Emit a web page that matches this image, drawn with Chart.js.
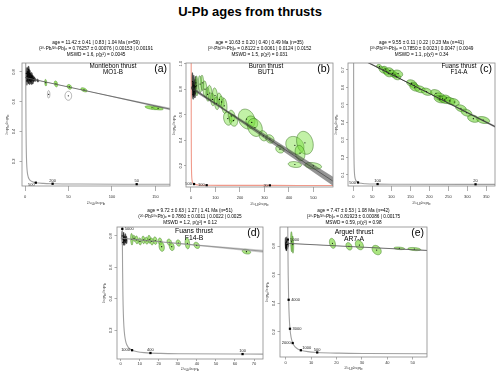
<!DOCTYPE html>
<html><head><meta charset="utf-8">
<script src="https://cdn.jsdelivr.net/npm/chart.js@4"></script>
<style>
html,body{margin:0;padding:0;background:#fff;width:500px;height:377px;overflow:hidden;position:relative}
#title{position:absolute;left:0;top:4px;width:500px;text-align:center;font:bold 13px "Liberation Sans",Arial,sans-serif;line-height:16px;color:#000}
canvas{position:absolute}
</style></head><body>
<div id="title">U-Pb ages from thrusts</div>
<script>
// ---------------- DATA ----------------
// concordia reference curve (x = 238U/206Pb, y = 207Pb/206Pb)
const concordiaX = [0.651,0.742,0.806,0.853,0.918,0.990,1.163,1.387,1.687,2.111,2.749,3.817,4.888,5.959,8.718,12.40,20.99,31.73,63.97,128.4,321.8,644,1000];
const concordiaY = [1.734,1.207,0.9735,0.845,0.7094,0.5967,0.425,0.3059,0.2226,0.1643,0.123,0.0936,0.0801,0.0725,0.0628,0.0572,0.0523,0.0501,0.0480,0.0470,0.0464,0.0462,0.0461];
// concordia age ticks (Ma)
const concordiaAgeLabels = ['5000','4000','3000','2000','1000','500','400','200','100','50','20'];
const concordiaAgeX = [0.853,1.163,1.687,2.749,5.959,12.40,15.62,31.73,63.97,128.4,321.8];
const concordiaAgeY = [0.845,0.425,0.2226,0.123,0.0725,0.0572,0.0547,0.0501,0.0480,0.0470,0.0464];

// ellipses: [238U/206Pb, 207Pb/206Pb, sx, sy, rho]
// (a) Montlebon thrust MO1-B
const panelA_black = [[1.5,0.790,0.8,0.040,-0.2],[2.5,0.770,1.0,0.035,-0.2],[3.0,0.800,0.9,0.030,-0.2],[3.8,0.760,1.1,0.040,-0.2],[4.5,0.780,1.0,0.030,-0.2],[5.0,0.745,1.2,0.030,-0.2],[5.5,0.790,1.0,0.025,-0.2],[6.2,0.762,1.2,0.030,-0.2],[7.0,0.750,1.3,0.035,-0.2],[7.8,0.772,1.0,0.025,-0.2],[8.5,0.748,1.4,0.030,-0.2],[2.0,0.740,0.8,0.030,-0.2],[4.2,0.815,0.8,0.025,-0.2],[9.6,0.755,1.2,0.020,-0.2],[11.2,0.750,1.4,0.014,-0.3],[14.6,0.742,1.2,0.010,-0.3]];
const panelA_green = [[23.8,0.728,1.2,0.022,-0.2],[35.6,0.720,2.0,0.020,-0.3],[51.0,0.700,2.6,0.016,-0.3],[67.8,0.680,3.6,0.014,-0.5],[146.0,0.560,8.0,0.013,-0.5],[153.0,0.556,6.0,0.011,-0.4]];
const panelA_omitted = [[27.2,0.650,1.4,0.025,0.0],[49.8,0.640,3.8,0.030,0.0]];
const panelA_discordia = [[0,0.7626],[564,0.0463]];
const panelA_bandUpper = [[0,0.7646],[60,0.6880],[170,0.5560]];
const panelA_bandLower = [[0,0.7606],[60,0.6850],[170,0.5380]];
const panelA_ages = ['500','200','50'];
const panelA_xTicks = ['0','50','100','150'];
const panelA_yTicks = ['0.2','0.4','0.6','0.8'];

// (b) Buron thrust BUT1
const panelB_black = [[6,0.86,3,0.07,-0.2],[9,0.80,3.5,0.06,-0.2],[12,0.83,3,0.08,-0.2],[15,0.78,4,0.05,-0.2],[18,0.82,3.5,0.06,-0.2],[8,0.76,3,0.04,-0.2],[20,0.85,3,0.05,-0.2]];
const panelB_green = [[23,0.826,6,0.078,-0.2],[37,0.840,7,0.065,-0.2],[46,0.850,6,0.060,-0.2],[57,0.800,8,0.065,-0.2],[68,0.760,7,0.055,-0.2],[77,0.770,9,0.060,-0.2],[88,0.720,8,0.050,-0.2],[98,0.750,10,0.060,-0.2],[105,0.690,9,0.050,-0.2],[116,0.720,10,0.050,-0.2],[125,0.700,10,0.045,-0.2],[136,0.670,11,0.060,-0.2],[150,0.570,17,0.052,-0.2],[166,0.590,14,0.045,-0.2],[173,0.555,17,0.045,-0.2],[227,0.566,34,0.078,-0.2],[248,0.540,24,0.050,-0.2],[261,0.500,30,0.070,-0.2],[295,0.435,17,0.040,-0.2],[322,0.410,17,0.033,-0.2],[363,0.330,17,0.030,-0.2],[424,0.360,37,0.070,-0.2],[465,0.380,34,0.090,-0.2],[445,0.300,20,0.060,-0.2],[424,0.210,27,0.023,-0.2],[499,0.200,34,0.026,-0.3]];
const panelB_omitted = [];
const panelB_discordia = [[0,0.8122],[606,0.0462]];
const panelB_bandUpper = [[0,0.8242],[150,0.6316],[580,0.1141]];
const panelB_bandLower = [[0,0.8002],[150,0.6136],[580,0.0441]];
const panelB_ages = ['500','100','20'];
const panelB_xTicks = ['0','100','200','300','400','500'];
const panelB_yTicks = ['0.2','0.4','0.6','0.8','1.0'];

// (c) Fuans thrust F14-A
const panelC_black = [];
const panelC_green = [[68.7,0.719,7,0.013,-0.3],[79,0.700,11,0.019,-0.3],[84,0.705,8,0.016,-0.3],[88,0.690,10,0.018,-0.3],[92,0.680,11,0.019,-0.3],[96.6,0.696,10,0.017,-0.3],[103.6,0.680,11,0.020,-0.3],[110,0.672,9,0.016,-0.3],[114,0.662,11,0.018,-0.3],[118,0.680,12,0.020,-0.3],[153.6,0.624,13,0.020,-0.3],[160,0.612,11,0.018,-0.3],[162,0.600,13,0.021,-0.3],[175.5,0.590,14,0.020,-0.3],[193,0.576,14,0.021,-0.3],[217.6,0.567,14,0.021,-0.3],[228,0.547,15,0.022,-0.3],[228,0.533,15,0.021,-0.3],[235,0.535,13,0.018,-0.3],[241,0.529,14,0.021,-0.3],[245,0.540,11,0.017,-0.3],[254.5,0.523,14,0.021,-0.3],[266,0.517,13,0.020,-0.3],[283.4,0.481,14,0.020,-0.3],[298,0.456,14,0.020,-0.3],[316,0.422,15,0.021,-0.3],[342,0.414,17,0.020,-0.3]];
const panelC_omitted = [];
const panelC_discordia = [[0,0.7850],[674.5,0.0462]];
const panelC_bandUpper = [[0,0.7895],[200,0.5679],[380,0.3748]];
const panelC_bandLower = [[0,0.7805],[200,0.5639],[380,0.3628]];
const panelC_ages = ['500','100','20'];
const panelC_xTicks = ['0','50','100','150','200','250','300','350'];
const panelC_yTicks = ['0.1','0.2','0.3','0.4','0.5','0.6','0.7'];

// (d) Fuans thrust F14-B
const panelD_black = [[0.8,0.80,0.3,0.030,-0.2],[1.2,0.78,0.35,0.040,-0.2],[1.6,0.79,0.3,0.035,-0.2],[2.0,0.77,0.4,0.030,-0.2],[2.5,0.785,0.35,0.030,-0.2],[3.0,0.775,0.4,0.025,-0.2],[1.0,0.76,0.3,0.020,-0.2]];
const panelD_green = [[5.8,0.779,0.6,0.037,-0.2],[7.0,0.785,0.6,0.020,-0.2],[8.4,0.775,0.8,0.025,-0.2],[10.1,0.765,0.8,0.022,-0.2],[11.9,0.775,0.8,0.024,-0.2],[13.6,0.770,0.9,0.022,-0.2],[15.0,0.779,0.8,0.025,-0.2],[16.3,0.765,0.9,0.022,-0.2],[18.1,0.770,1.0,0.024,-0.2],[20.7,0.765,1.0,0.022,-0.2],[21.5,0.732,1.4,0.030,-0.2],[25.5,0.760,1.2,0.020,-0.2],[26.8,0.732,1.3,0.025,-0.2],[30.3,0.755,1.2,0.020,-0.2],[35.0,0.753,1.2,0.035,-0.2],[39.9,0.740,1.5,0.020,-0.3],[66.0,0.700,2.2,0.015,-0.3]];
const panelD_omitted = [];
const panelD_discordia = [[0,0.7860],[662.7,0.0462]];
const panelD_bandUpper = [[0,0.7885],[20,0.7652],[76,0.7112]];
const panelD_bandLower = [[0,0.7835],[20,0.7622],[76,0.6912]];
const panelD_ages = ['5000','1000','400','100'];
const panelD_xTicks = ['0','10','20','30','40','50','60','70'];
const panelD_yTicks = ['0.2','0.4','0.6','0.8'];

// (e) Arguel thrust AR7-A
const panelE_black = [[0.0,0.82,0.25,0.040,-0.2],[0.3,0.80,0.3,0.030,-0.2],[0.5,0.83,0.25,0.035,-0.2],[0.7,0.81,0.3,0.030,-0.2],[0.2,0.79,0.25,0.025,-0.2],[0.9,0.815,0.3,0.020,-0.2]];
const panelE_green = [[2.3,0.830,0.35,0.070,-0.2],[2.8,0.810,0.35,0.060,-0.2],[18.4,0.819,1.2,0.035,-0.3],[24.9,0.798,1.2,0.026,-0.3],[29.0,0.807,1.6,0.033,-0.3],[35.8,0.772,1.8,0.033,-0.3],[44.7,0.784,2.1,0.009,-0.3],[50.6,0.779,2.5,0.011,-0.3]];
const panelE_omitted = [];
const panelE_discordia = [[0,0.81923],[862.5,0.0462]];
const panelE_bandUpper = [[0,0.8212],[30,0.7938],[56,0.7725]];
const panelE_bandLower = [[0,0.8172],[30,0.7908],[56,0.7655]];
const panelE_ages = ['5000','4000','3000','2000','1000','500'];
const panelE_xTicks = ['0','10','20','30','40','50'];
const panelE_yTicks = ['0.2','0.4','0.6','0.8'];

// header texts
const headers = {
  a:['age = 11.42 ± 0.41 | 0.83 | 1.04 Ma (n=59)','(²⁰⁷Pb/²⁰⁶Pb)ₒ = 0.76257 ± 0.00076 | 0.00153 | 0.00191','MSWD = 1.6, p(χ²) = 0.0045'],
  b:['age = 10.63 ± 0.20 | 0.40 | 0.49 Ma (n=35)','(²⁰⁷Pb/²⁰⁶Pb)ₒ = 0.8122 ± 0.0061 | 0.0124 | 0.0152','MSWD = 1.5, p(χ²) = 0.031'],
  c:['age = 9.55 ± 0.11 | 0.22 | 0.23 Ma (n=41)','(²⁰⁷Pb/²⁰⁶Pb)ₒ = 0.7850 ± 0.0023 | 0.0047 | 0.0049','MSWD = 1.1, p(χ²) = 0.34'],
  d:['age = 9.72 ± 0.63 | 1.27 | 1.41 Ma (n=51)','(²⁰⁷Pb/²⁰⁶Pb)ₒ = 0.7860 ± 0.0011 | 0.0022 | 0.0025','MSWD = 1.2, p(χ²) = 0.12'],
  e:['age = 7.47 ± 0.53 | 1.08 Ma (n=42)','(²⁰⁷Pb/²⁰⁶Pb)ₒ = 0.81923 ± 0.00086 | 0.00175','MSWD = 0.59, p(χ²) = 0.98']
};
const names = {a:['Montlebon thrust','MO1-B'], b:['Buron thrust','BUT1'], c:['Fuans thrust','F14-A'], d:['Fuans thrust','F14-B'], e:['Arguel thrust','AR7-A']};

// ---------------- LAYOUT / STYLE ----------------
const FONT = '"Liberation Sans", Arial, "DejaVu Sans", sans-serif';
const panels = [
 {id:'a', box:[22,63,170,186], xr:[-3.45,166.7], yr:[0.035,0.86], xt:panelA_xTicks, yt:panelA_yTicks,
  green:panelA_green, black:panelA_black, omitted:panelA_omitted, disc:panelA_discordia, hi:panelA_bandUpper, lo:panelA_bandLower,
  ages:panelA_ages, agePos:['bl','t','t'], hdr:[-20,-14.5,-8.5], nameX:113, nameY:[3,9.5], nameSize:6.3,
  xtl:5, xpad:3, xtitle:4.2, ytl:2.5, ypad:2.5, ytitle:7.6,
  st:{line:'#5a5a5a', lineW:0.8, band:'rgba(110,110,110,0.45)', conc:'#a0a0a0', green:'rgba(140,225,80,0.85)', gs:'#4a8a2a'}},
 {id:'b', box:[186,63,333,187], xr:[-20.4,579.6], yr:[0.034,1.005], xt:panelB_xTicks, yt:panelB_yTicks,
  green:panelB_green, black:panelB_black, omitted:panelB_omitted, disc:panelB_discordia, hi:panelB_bandUpper, lo:panelB_bandLower,
  ages:panelB_ages, agePos:['l','l','l'], hdr:[-20,-14.5,-8.5], nameX:266, nameY:[3,9.5], nameSize:6.3,
  xtl:5, xpad:3, xtitle:4.2, ytl:2, ypad:0, ytitle:10.6,
  st:{line:'#333', lineW:0.6, band:'rgba(60,60,60,0.55)', conc:'rgba(235,120,100,0.75)', green:'rgba(120,225,60,0.45)', gs:'#356d1c'}},
 {id:'c', box:[348,63,495,186], xr:[-13.9,373], yr:[0.037,0.74], xt:panelC_xTicks, yt:panelC_yTicks,
  green:panelC_green, black:panelC_black, omitted:panelC_omitted, disc:panelC_discordia, hi:panelC_bandUpper, lo:panelC_bandLower,
  ages:panelC_ages, agePos:['l','t','t'], hdr:[-20,-14.5,-8.5], nameX:459, nameY:[3,9.5], nameSize:6.3,
  xtl:5, xpad:3, xtitle:4.2, ytl:2, ypad:0.5, ytitle:10.3,
  st:{line:'#333', lineW:0.9, band:'rgba(90,90,90,0.5)', conc:'#a0a0a0', green:'rgba(115,210,60,0.6)', gs:'#2f6e17'}},
 {id:'d', box:[117,227,263,359], xr:[-1.94,74.7], yr:[0.0166,0.857], xt:panelD_xTicks, yt:panelD_yTicks,
  green:panelD_green, black:panelD_black, omitted:panelD_omitted, disc:panelD_discordia, hi:panelD_bandUpper, lo:panelD_bandLower,
  ages:panelD_ages, agePos:['r','l','t','t'], hdr:[-16,-10.5,-4.5], nameX:194, nameY:[4.5,11.5], nameSize:6.8,
  xtl:2, xpad:0.5, xtitle:10.6, ytl:2.5, ypad:1, ytitle:9.6,
  st:{line:'#888', lineW:0.8, band:'rgba(160,160,160,0.55)', conc:'#a0a0a0', green:'rgba(125,215,60,0.65)', gs:'#3f7d22'}},
 {id:'e', box:[280,227,427,357], xr:[-2.24,55.6], yr:[0.0254,0.933], xt:panelE_xTicks, yt:panelE_yTicks,
  green:panelE_green, black:panelE_black, omitted:panelE_omitted, disc:panelE_discordia, hi:panelE_bandUpper, lo:panelE_bandLower,
  ages:panelE_ages, agePos:['r','r','r','l','tr','t'], hdr:[-16,-10.5,-4.5], nameX:354, nameY:[5,12], nameSize:6.8,
  xtl:2.5, xpad:1, xtitle:9.6, ytl:2.5, ypad:1, ytitle:9.6,
  st:{line:'#555', lineW:0.8, band:'rgba(120,120,120,0.45)', conc:'#a0a0a0', green:'rgba(125,215,60,0.65)', gs:'#3f7d22'}}
];

Chart.defaults.font.family = FONT;
Chart.defaults.color = '#333';

function ellipsePath(ctx, xs, ys, p) {
  const n = 48, s = Math.sqrt(Math.max(0, 1 - p.r * p.r));
  ctx.beginPath();
  for (let i = 0; i <= n; i++) {
    const t = i / n * Math.PI * 2, c = Math.cos(t), si = Math.sin(t);
    const X = xs.getPixelForValue(p.x + p.sx * c);
    const Y = ys.getPixelForValue(p.y + p.sy * (p.r * c + s * si));
    if (i === 0) ctx.moveTo(X, Y); else ctx.lineTo(X, Y);
  }
  ctx.closePath();
}

function decor(P) {
  const [L, T, R, B] = P.box;
  const ox = L - 24, oy = T - 26;
  return {
    id: 'decor' + P.id,
    beforeDatasetsDraw(chart) {
      const {ctx, chartArea: a, scales: {x: xs, y: ys}} = chart;
      ctx.save();
      ctx.beginPath(); ctx.rect(a.left, a.top, a.right - a.left, a.bottom - a.top); ctx.clip();
      chart.data.datasets.forEach(ds => {
        if (!ds.ellipse) return;
        ds.data.forEach(p => {
          ellipsePath(ctx, xs, ys, p);
          if (ds.ellipse === 'green') {
            ctx.fillStyle = P.st.green; ctx.fill();
            ctx.lineWidth = 0.5; ctx.strokeStyle = P.st.gs; ctx.stroke();
          } else if (ds.ellipse === 'black') {
            ctx.fillStyle = 'rgba(0,0,0,0.6)'; ctx.fill();
            ctx.lineWidth = 0.4; ctx.strokeStyle = '#000'; ctx.stroke();
          } else {
            ctx.lineWidth = 0.6; ctx.strokeStyle = '#808080'; ctx.stroke();
          }
        });
      });
      ctx.restore();
    },
    afterDatasetsDraw(chart) {
      const {ctx, scales: {x: xs, y: ys}} = chart;
      ctx.save();
      ctx.font = '4px ' + FONT; ctx.fillStyle = '#222'; ctx.textBaseline = 'middle';
      P.ages.forEach((lab, i) => {
        const k = concordiaAgeLabels.indexOf(lab);
        const px = xs.getPixelForValue(concordiaAgeX[k]), py = ys.getPixelForValue(concordiaAgeY[k]);
        const pos = P.agePos[i];
        if (pos === 'l') { ctx.textAlign = 'right'; ctx.fillText(lab, px - 2, py); }
        else if (pos === 'r') { ctx.textAlign = 'left'; ctx.fillText(lab, px + 2.5, py); }
        else if (pos === 't') { ctx.textAlign = 'center'; ctx.fillText(lab, px, py - 3); }
        else if (pos === 'tr') { ctx.textAlign = 'left'; ctx.fillText(lab, px + 1.5, py - 2.5); }
        else if (pos === 'bl') { ctx.textAlign = 'right'; ctx.fillText(lab, px - 1, py + 2.5); }
      });
      ctx.restore();
    },
    afterDraw(chart) {
      const {ctx, chartArea: a} = chart;
      ctx.save();
      ctx.strokeStyle = '#8a8a8a'; ctx.lineWidth = 0.8;
      ctx.strokeRect(a.left, a.top, a.right - a.left, a.bottom - a.top);
      ctx.fillStyle = '#000'; ctx.textAlign = 'center'; ctx.textBaseline = 'middle';
      ctx.font = '4.7px ' + FONT;
      const cx = (a.left + a.right) / 2;
      headers[P.id].forEach((t, i) => ctx.fillText(t, cx, a.top + P.hdr[i]));
      ctx.font = P.nameSize + 'px ' + FONT;
      names[P.id].forEach((t, i) => ctx.fillText(t, P.nameX - ox, a.top + P.nameY[i]));
      ctx.font = '10.5px ' + FONT; ctx.textAlign = 'right';
      ctx.fillText('(' + P.id + ')', a.right - 3, a.top + 6.5);
      ctx.restore();
    }
  };
}

function makeChart(P) {
  const [L, T, R, B] = P.box;
  const W = (R - L) + 24 + 8, H = (B - T) + 26 + 24;
  const cv = document.createElement('canvas');
  cv.width = W; cv.height = H;
  cv.style.left = (L - 24) + 'px'; cv.style.top = (T - 26) + 'px';
  cv.style.width = W + 'px'; cv.style.height = H + 'px';
  document.body.appendChild(cv);
  const ell = arr => arr.map(([x, y, sx, sy, r]) => ({x, y, sx, sy, r}));
  const xy = arr => arr.map(([x, y]) => ({x, y}));
  const ages = P.ages.map(l => { const k = concordiaAgeLabels.indexOf(l); return {x: concordiaAgeX[k], y: concordiaAgeY[k]}; });
  const conc = concordiaX.map((x, i) => ({x, y: concordiaY[i]}));
  const dot = {pointRadius: 0.6, pointBackgroundColor: '#000', pointBorderWidth: 0, order: 2};
  const datasets = [
    {type: 'line', label: 'discordia', data: xy(P.disc), borderColor: P.st.line, borderWidth: P.st.lineW, pointRadius: 0, fill: false, order: 0},
    {type: 'scatter', label: 'concordia ages', data: ages, pointStyle: 'rect', pointRadius: 1.6, pointBackgroundColor: '#000', pointBorderWidth: 0, order: 1},
    Object.assign({type: 'scatter', label: 'omitted', data: ell(P.omitted), ellipse: 'omitted'}, dot),
    Object.assign({type: 'scatter', label: 'common-Pb rich', data: ell(P.black), ellipse: 'black'}, dot),
    Object.assign({type: 'scatter', label: 'analyses', data: ell(P.green), ellipse: 'green'}, dot),
    {type: 'line', label: 'band lower', data: xy(P.lo), borderColor: 'rgba(0,0,0,0)', borderWidth: 1, pointRadius: 0, fill: false, order: 3},
    {type: 'line', label: 'band upper', data: xy(P.hi), borderColor: 'rgba(0,0,0,0)', borderWidth: 1, pointRadius: 0, fill: '-1', backgroundColor: P.st.band, order: 3},
    {type: 'line', label: 'concordia', data: conc, borderColor: P.st.conc, borderWidth: 1.1, pointRadius: 0, fill: false, cubicInterpolationMode: 'monotone', order: 5}
  ];
  new Chart(cv, {
    type: 'scatter',
    data: {datasets},
    options: {
      responsive: false, animation: false, devicePixelRatio: 1, events: [],
      layout: {padding: {top: 26, right: 8, left: 0, bottom: 0}},
      plugins: {legend: {display: false}, tooltip: {enabled: false}, title: {display: false}},
      scales: {
        x: {
          type: 'linear', position: 'bottom', min: P.xr[0], max: P.xr[1],
          afterBuildTicks: s => { s.ticks = P.xt.map(t => ({value: Number(t)})); },
          afterFit: s => { s.height = 24; },
          border: {display: false},
          grid: {drawOnChartArea: false, drawTicks: true, tickLength: P.xtl, color: '#777', lineWidth: 0.6},
          ticks: {autoSkip: false, maxRotation: 0, minRotation: 0, padding: P.xpad, color: '#333', font: {size: 4}, callback: (v, i) => P.xt[i]},
          title: {display: true, text: '²³⁸U/²⁰⁶Pb', color: '#333', font: {size: 4}, padding: {top: 0, bottom: P.xtitle}}
        },
        y: {
          type: 'linear', position: 'left', min: P.yr[0], max: P.yr[1],
          afterBuildTicks: s => { s.ticks = P.yt.map(t => ({value: Number(t)})); },
          afterFit: s => { s.width = 24; },
          border: {display: false},
          grid: {drawOnChartArea: false, drawTicks: true, tickLength: P.ytl, color: '#777', lineWidth: 0.6},
          ticks: {autoSkip: false, minRotation: 90, maxRotation: 90, crossAlign: 'center', padding: P.ypad, color: '#333', font: {size: 4}, callback: (v, i) => P.yt[i]},
          title: {display: true, text: '²⁰⁷Pb/²⁰⁶Pb', color: '#333', font: {size: 4}, padding: {top: P.ytitle, bottom: 0}}
        }
      }
    },
    plugins: [decor(P)]
  });
}
panels.forEach(makeChart);
</script>
</body></html>
